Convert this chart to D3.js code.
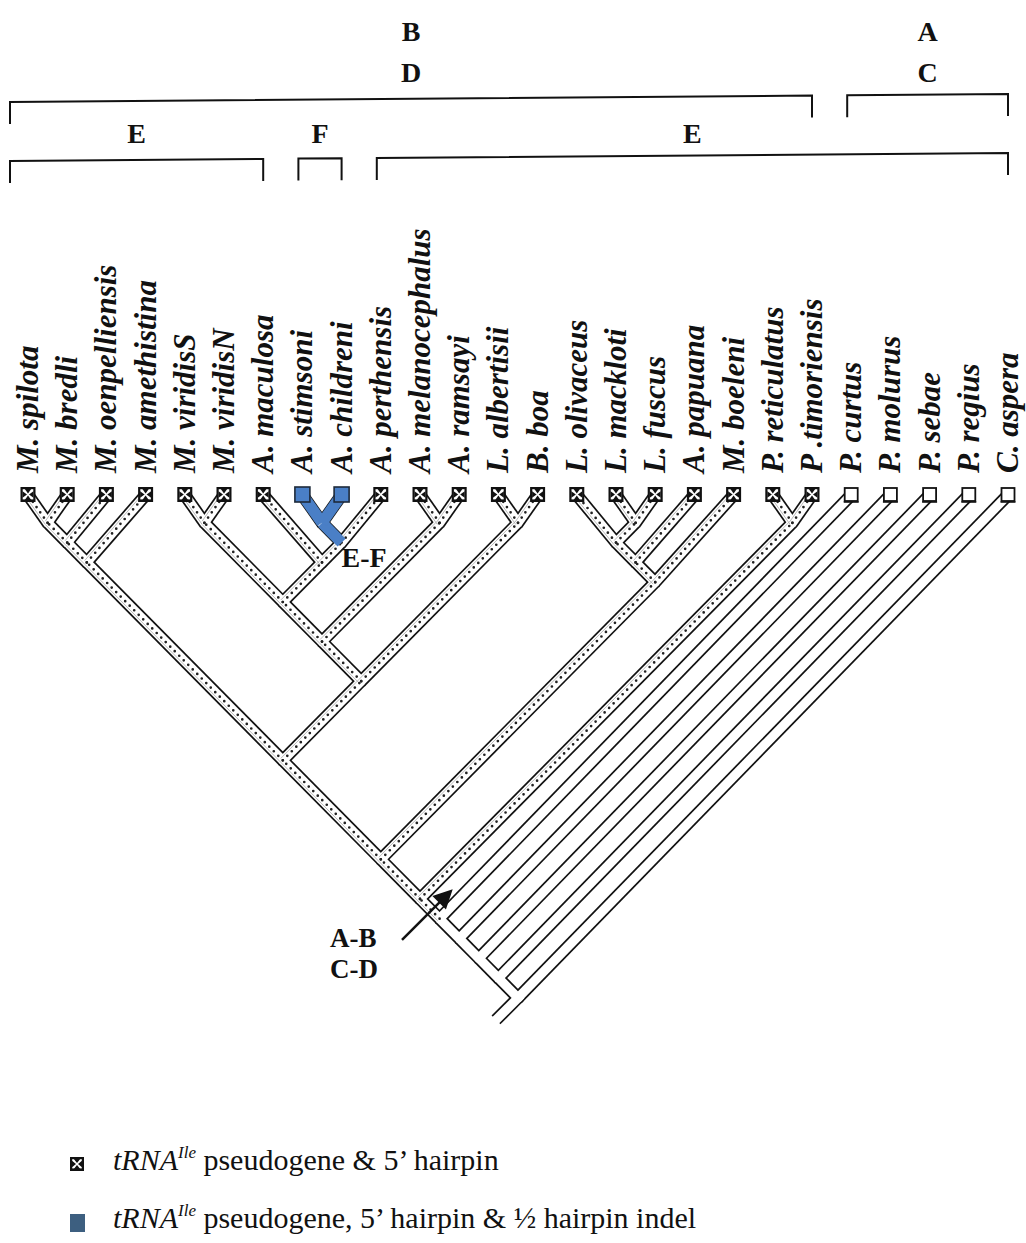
<!DOCTYPE html>
<html><head><meta charset="utf-8">
<script src="https://cdn.jsdelivr.net/npm/d3@7"></script>
<style>body{margin:0;background:#fff}svg{display:block}</style>
</head><body>
<svg id="chart" width="1026" height="1243"></svg>
<script>
// ---------------- data ----------------
const taxa = ["M. spilota","M. bredli","M. oenpelliensis","M. amethistina","M. viridisS","M. viridisN",
  "A. maculosa","A. stimsoni","A. childreni","A. perthensis","A. melanocephalus","A. ramsayi",
  "L. albertisii","B. boa","L. olivaceus","L. mackloti","L. fuscus","A. papuana","M. boeleni",
  "P. reticulatus","P .timoriensis","P. curtus","P. molurus","P. sebae","P. regius","C. aspera"];
const pseudogeneTaxa = taxa.slice(0, 21);          // tRNA-Ile pseudogene & 5' hairpin
const indelTaxa = ["A. stimsoni","A. childreni"];  // + 1/2 hairpin indel
const topology =
 [[[[[[[[[[["M. spilota","M. bredli"],"M. oenpelliensis"],"M. amethistina"],
        [[[["M. viridisS","M. viridisN"],["A. maculosa",[["A. stimsoni","A. childreni"],"A. perthensis"]]],
          ["A. melanocephalus","A. ramsayi"]],
         ["L. albertisii","B. boa"]]],
       [[["L. olivaceus",["L. mackloti","L. fuscus"]],"A. papuana"],"M. boeleni"]],
      ["P. reticulatus","P .timoriensis"]],
     "P. curtus"],"P. molurus"],"P. sebae"],"P. regius"],"C. aspera"];
const brackets = [
  {labels:["B","D"], from:"M. spilota", to:"P .timoriensis", row:0},
  {labels:["A","C"], from:"P. curtus", to:"C. aspera", row:0},
  {labels:["E"], from:"M. spilota", to:"A. maculosa", row:1},
  {labels:["F"], from:"A. stimsoni", to:"A. childreni", row:1},
  {labels:["E"], from:"A. perthensis", to:"C. aspera", row:1}
];
const nodeLabels = [{text:"E-F", clade:["A. stimsoni","A. perthensis"]}];
const arrowLabel = ["A-B","C-D"];
const legendItems = [
  {kind:"cross", rest:" pseudogene & 5\u2019 hairpin"},
  {kind:"indel", rest:" pseudogene, 5\u2019 hairpin & \u00bd hairpin indel"}
];

// ---------------- drawing ----------------
const svg = d3.select("#chart");
const serif = "'Liberation Serif','Times New Roman',serif";
const x = d3.scalePoint().domain(taxa).range([28, 1008]);
const leafY = 503;

const root = d3.hierarchy(topology, d => Array.isArray(d) ? d : null);
root.eachAfter(n => {
  if (!n.children) { n.x0 = n.x1 = x(n.data); n.px = x(n.data); n.py = leafY - 8; }
  else {
    n.x0 = d3.min(n.children, c => c.x0); n.x1 = d3.max(n.children, c => c.x1);
    n.px = (n.x0 + n.x1) / 2; n.py = leafY + (n.x1 - n.x0) / 2 * 1.01;   // 45-degree cladogram
  }
  n.names = n.leaves().map(l => l.data);
});

const segs = [];
root.each(n => { if (n.parent) segs.push({p: n.parent, c: n}); });
const stemLen = 22;
const line = d3.line();
function segPts(s) {
  const dx = s.c.px - s.p.px, dy = s.c.py - s.p.py, L = Math.hypot(dx, dy);
  const ext = 1.2;
  return [[s.p.px - dx / L * ext, s.p.py - dy / L * ext], [s.c.px, s.c.py]];
}
const rootStem = [[root.px + 1, root.py - 1], [root.px - stemLen, root.py + stemLen]];

const halfW = 4.6, sw = 1.7;
const gTree = svg.append("g");
gTree.selectAll("path.blk").data(segs).join("path").attr("class","blk")
  .attr("d", s => line(segPts(s))).attr("stroke", "#111").attr("stroke-width", 2*halfW + 2*sw)
  .attr("fill","none").attr("stroke-linecap","butt");
gTree.append("path").attr("d", line(rootStem)).attr("stroke","#111").attr("stroke-width", 2*halfW + 2*sw).attr("fill","none");
gTree.selectAll("path.wht").data(segs).join("path").attr("class","wht")
  .attr("d", s => line(segPts(s))).attr("stroke", "#fff").attr("stroke-width", 2*halfW)
  .attr("fill","none").attr("stroke-linecap","butt");
gTree.append("path").attr("d", line([[root.px + 3, root.py - 3],[root.px - stemLen - 3, root.py + stemLen + 3]]))
  .attr("stroke","#fff").attr("stroke-width", 2*halfW).attr("fill","none");

// pseudogene lineages: dotted
const isPseudo = n => n.names.every(t => pseudogeneTaxa.includes(t));
const isIndel = n => n.names.every(t => indelTaxa.includes(t));
const pseudoSegs = segs.filter(s => isPseudo(s.c) && !isIndel(s.c));
gTree.selectAll("path.thin").data(pseudoSegs).join("path")
  .attr("d", s => {
    const dx = s.c.px - s.p.px, dy = s.c.py - s.p.py, L = Math.hypot(dx, dy);
    let ox = -dy / L, oy = dx / L; if (ox > 0) { ox = -ox; oy = -oy; }
    const o = 2.8;
    return line([[s.p.px + ox*o, s.p.py + oy*o],[s.c.px + ox*o, s.c.py + oy*o]]);
  })
  .attr("stroke","#aaa").attr("stroke-width",0.8).attr("fill","none");
gTree.selectAll("path.dot").data(pseudoSegs).join("path")
  .attr("class","dot").attr("d", s => line([[s.p.px, s.p.py],[s.c.px, s.c.py]]))
  .attr("stroke","#222").attr("stroke-width", 2.7).attr("stroke-dasharray","0 6.4")
  .attr("stroke-linecap","round").attr("fill","none");

// indel lineages: blue band
gTree.selectAll("path.blue").data(segs.filter(s => isIndel(s.c))).join("path")
  .attr("d", s => line([[s.p.px, s.p.py],[s.c.px, s.c.py]]))
  .attr("stroke","#4a7fc6").attr("stroke-width", 2*halfW + 2).attr("fill","none");

// leaf boxes
function crossBox(g, cx, top, size) {
  const h = size / 2;
  g.append("rect").attr("x", cx - h).attr("y", top).attr("width", size).attr("height", size)
    .attr("fill", "#111");
  g.append("rect").attr("x", cx - h + 2.2).attr("y", top + 2.2).attr("width", size - 4.4).attr("height", size - 4.8)
    .attr("fill", "#fff");
  const m = 3.2, c = top + h;
  const tri = [[[cx - m, top + 2],[cx + m, top + 2],[cx, c - 1]],
               [[cx - m, top + size - 2],[cx + m, top + size - 2],[cx, c + 1]],
               [[cx - h + 2, c - m],[cx - h + 2, c + m],[cx - 1, c]],
               [[cx + h - 2, c - m],[cx + h - 2, c + m],[cx + 1, c]]];
  tri.forEach(t => g.append("path").attr("d", d3.line()(t) + "Z").attr("fill", "#111"));
}
const gLeaf = svg.append("g");
const boxSize = 15, boxTop = 487;
taxa.forEach(t => {
  const cx = x(t);
  if (indelTaxa.includes(t)) {
    gLeaf.append("rect").attr("x", cx - boxSize/2).attr("y", boxTop).attr("width", boxSize).attr("height", boxSize)
      .attr("fill","#4a7fc6").attr("stroke","#1d2a3a").attr("stroke-width",1.6);
  } else if (pseudogeneTaxa.includes(t)) {
    crossBox(gLeaf, cx, boxTop, boxSize);
  } else {
    gLeaf.append("rect").attr("x", cx - boxSize/2 + 1).attr("y", boxTop + 1).attr("width", boxSize - 2).attr("height", boxSize - 2)
      .attr("fill","#fff").attr("stroke","#111").attr("stroke-width",1.8);
    gLeaf.append("line").attr("x1", cx - boxSize/2).attr("x2", cx + boxSize/2).attr("y1", boxTop + boxSize).attr("y2", boxTop + boxSize)
      .attr("stroke","#111").attr("stroke-width",1.6);
  }
});

// taxon labels (rotated)
svg.append("g").selectAll("text").data(taxa).join("text")
  .attr("transform", t => `translate(${x(t) + 10},473) rotate(-90)`)
  .attr("font-family", serif).attr("font-style","italic").attr("font-weight","bold")
  .attr("font-size", 31).attr("fill","#111").text(t => t);

// clade brackets (slight scan skew)
const skew = xx => 4 - xx * 0.008;
const gBr = svg.append("g");
brackets.forEach(b => {
  const x0 = b.from === taxa[0] ? 10 : x(b.from) - 4, x1 = x(b.to);
  const y0 = b.row === 0 ? 98 : 157;
  gBr.append("path").attr("d", line([[x0, y0 + skew(x0) + 22],[x0, y0 + skew(x0)],[x1, y0 + skew(x1)],[x1, y0 + skew(x1) + 22]]))
    .attr("fill","none").attr("stroke","#111").attr("stroke-width",2);
  b.labels.forEach((l, i) => {
    gBr.append("text").attr("x", (x0 + x1) / 2).attr("y", b.row === 0 ? 41 + i * 41 : 143)
      .attr("text-anchor","middle").attr("font-family", serif).attr("font-weight","bold")
      .attr("font-size", 28).attr("fill","#111").text(l);
  });
});

// E-F node label
nodeLabels.forEach(nl => {
  let node = root.leaves().find(l => l.data === nl.clade[0]);
  while (!nl.clade.every(t => node.names.includes(t))) node = node.parent;
  svg.append("text").attr("x", node.px + 0).attr("y", node.py + 24)
    .attr("font-family", serif).attr("font-weight","bold").attr("font-size",28).attr("fill","#111").text(nl.text);
});

// A-B / C-D arrow to the split between groups
const bd = root.descendants().find(n => n.names.length === pseudogeneTaxa.length && isPseudo(n));
const tip = [bd.px + 30, bd.py - 7];
const tail = [tip[0] - 48, tip[1] + 48];
svg.append("defs").append("marker").attr("id","ah").attr("viewBox","0 0 10 10").attr("refX",8).attr("refY",5)
  .attr("markerWidth",9).attr("markerHeight",8).attr("orient","auto")
  .append("path").attr("d","M0,0L10,5L0,10Z").attr("fill","#111");
svg.append("line").attr("x1", tail[0]).attr("y1", tail[1]).attr("x2", tip[0]).attr("y2", tip[1])
  .attr("stroke","#111").attr("stroke-width",2.4).attr("marker-end","url(#ah)");
arrowLabel.forEach((t, i) => svg.append("text").attr("x", tail[0] - 72).attr("y", tail[1] + 7 + i * 31)
  .attr("font-family", serif).attr("font-weight","bold").attr("font-size",27).attr("fill","#111").text(t));

// legend
const gL = svg.append("g");
legendItems.forEach((it, i) => {
  const y = 1170 + i * 58;
  if (it.kind === "cross") crossBox(gL, 77, y - 13, 14);
  else gL.append("rect").attr("x", 70).attr("y", y - 14).attr("width", 15).attr("height", 18).attr("fill", "#3d5f80");
  const t = gL.append("text").attr("x", 113).attr("y", y).attr("font-family", serif)
    .attr("font-size", 30).attr("fill","#111");
  t.append("tspan").attr("font-style","italic").text("tRNA");
  t.append("tspan").attr("font-style","italic").attr("font-size",17).attr("dy",-12).text("Ile");
  t.append("tspan").attr("dy",12).text(it.rest);
});
</script>
</body></html>
